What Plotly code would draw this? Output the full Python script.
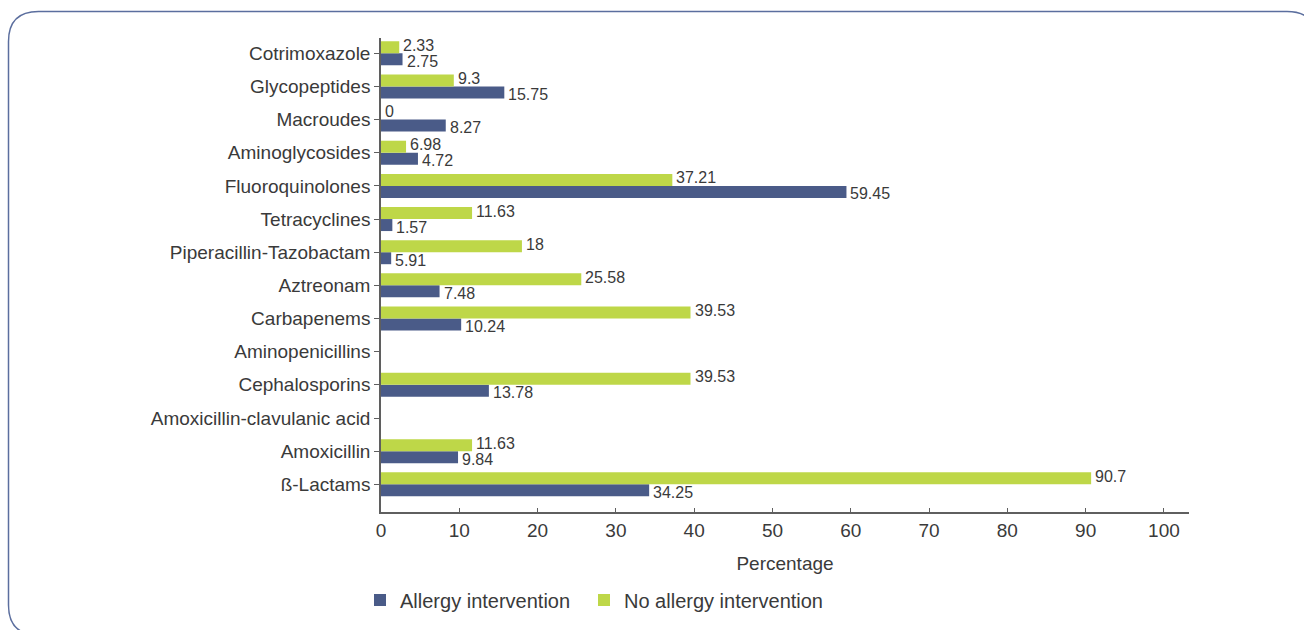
import plotly.graph_objects as go

categories = ["ß-Lactams", "Amoxicillin", "Amoxicillin-clavulanic acid", "Cephalosporins",
              "Aminopenicillins", "Carbapenems", "Aztreonam", "Piperacillin-Tazobactam",
              "Tetracyclines", "Fluoroquinolones", "Aminoglycosides", "Macroudes",
              "Glycopeptides", "Cotrimoxazole"]

# bar lengths as drawn
allergy_values = [34.25, 9.84, None, 13.78, None, 10.24, 7.48, 1.3, 1.45, 59.45, 4.72, 8.27, 15.75, 2.75]
no_allergy_values = [90.7, 11.63, None, 39.53, None, 39.53, 25.58, 18, 11.63, 37.21, 3.2, 0, 9.3, 2.33]
# data labels as printed
allergy_labels = ["34.25", "9.84", "", "13.78", "", "10.24", "7.48", "5.91", "1.57", "59.45", "4.72", "8.27", "15.75", "2.75"]
no_allergy_labels = ["90.7", "11.63", "", "39.53", "", "39.53", "25.58", "18", "11.63", "37.21", "6.98", "0", "9.3", "2.33"]

x_ticks = [0, 10, 20, 30, 40, 50, 60, 70, 80, 90, 100]

BLUE = "#4a5b88"
GREEN = "#bed748"
TXT = "#3a3a3a"
FONT = "Liberation Sans, Arial, sans-serif"

W, H = 1304, 630
ML, MR, MT, MB = 381, 115, 38, 118
PW, PH = W - ML - MR, H - MT - MB


def px(x):
    return (x - ML) / PW


def py(y):
    return (H - MB - y) / PH


fig = go.Figure()
fig.add_trace(go.Bar(
    y=categories, x=allergy_values, orientation="h", name="Allergy intervention",
    marker=dict(color=BLUE, line=dict(width=0)), hoverinfo="x+y", legend="legend",
))
fig.add_trace(go.Bar(
    y=categories, x=no_allergy_values, orientation="h", name="No allergy intervention",
    marker=dict(color=GREEN, line=dict(width=0)), hoverinfo="x+y", legend="legend2",
))

annotations = []
for cat, val, lab in zip(categories, allergy_values, allergy_labels):
    if lab:
        annotations.append(dict(x=val, y=cat, xref="x", yref="y", text=lab, showarrow=False,
                                xanchor="left", yanchor="middle", xshift=2, yshift=-8,
                                font=dict(family=FONT, size=16, color=TXT)))
for cat, val, lab in zip(categories, no_allergy_values, no_allergy_labels):
    if lab:
        annotations.append(dict(x=val, y=cat, xref="x", yref="y", text=lab, showarrow=False,
                                xanchor="left", yanchor="middle", xshift=2, yshift=8,
                                font=dict(family=FONT, size=16, color=TXT)))

# rounded frame
L, T, R, B, r = 8.5, 11.5, 1317, 635, 30
path = (f"M {px(L)},{py(T + r)} Q {px(L)},{py(T)} {px(L + r)},{py(T)} "
        f"L {px(R - r)},{py(T)} Q {px(R)},{py(T)} {px(R)},{py(T + r)} "
        f"L {px(R)},{py(B - r)} Q {px(R)},{py(B)} {px(R - r)},{py(B)} "
        f"L {px(L + r)},{py(B)} Q {px(L)},{py(B)} {px(L)},{py(B - r)} Z")

leg_common = dict(orientation="h", y=py(600), xanchor="left", yanchor="middle",
                  font=dict(family=FONT, size=20, color=TXT),
                  itemwidth=30, bgcolor="rgba(0,0,0,0)")

fig.update_layout(
    width=W, height=H,
    margin=dict(l=ML, r=MR, t=MT, b=MB, autoexpand=False),
    paper_bgcolor="white", plot_bgcolor="white",
    barmode="group", bargap=0.276, bargroupgap=0,
    font=dict(family=FONT, size=19, color=TXT),
    showlegend=True,
    legend=dict(x=px(360), **leg_common),
    legend2=dict(x=px(584), **leg_common),
    annotations=annotations,
    shapes=[dict(type="path", xref="paper", yref="paper", path=path,
                 line=dict(color="#5b6e9e", width=1.5), layer="below")],
    xaxis=dict(range=[0, 103.2], tickvals=x_ticks, ticks="inside", ticklen=4,
               tickcolor="#5f5f5f", showline=True, linecolor="#5f5f5f", linewidth=1.5,
               showgrid=False, zeroline=False, tickfont=dict(size=19, color=TXT),
               title=dict(text="Percentage", font=dict(size=19, color=TXT), standoff=17)),
    yaxis=dict(type="category", categoryorder="array", categoryarray=categories,
               range=[-0.835, 13.46], ticks="outside", ticklen=5, tickcolor="#5f5f5f",
               showline=True, linecolor="#5f5f5f", linewidth=1.5, showgrid=False,
               zeroline=False, tickfont=dict(size=19, color=TXT)),
)

fig.write_html("out.html")
